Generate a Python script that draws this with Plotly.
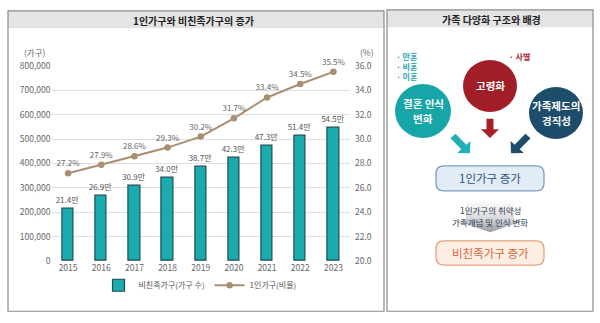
import math
import plotly.graph_objects as go

# ---- data -------------------------------------------------------------
years = [2015, 2016, 2017, 2018, 2019, 2020, 2021, 2022, 2023]
nonkin_households = [214000, 269000, 309000, 340000, 387000, 423000, 473000, 514000, 545000]
single_ratio = [27.2, 27.9, 28.6, 29.3, 30.2, 31.7, 33.4, 34.5, 35.5]
left_ticks = [0, 100000, 200000, 300000, 400000, 500000, 600000, 700000, 800000]
right_ticks = [20, 22, 24, 26, 28, 30, 32, 34, 36]

bar_name = "비친족가구(가구 수)"
line_name = "1인가구(비율)"
left_title = "1인가구와 비친족가구의 증가"
right_title = "가족 다양화 구조와 배경"

W, H = 600, 323
FONT = "Noto Sans CJK KR"


def fx(px):
    return px / W


def fy(py):
    return 1 - py / H


fig = go.Figure()

# ---- left panel: bar + line chart ------------------------------------
fig.add_trace(go.Bar(
    x=years, y=nonkin_households, name=bar_name, width=0.34,
    marker=dict(color="#19abad", line=dict(color="#1d4d52", width=1.2)),
    text=[f"{v / 10000:.1f}만" for v in nonkin_households],
    textposition="outside", cliponaxis=False, constraintext="none",
    outsidetextfont=dict(size=8, color="#555555", family=FONT),
    hoverinfo="skip",
))
fig.add_trace(go.Scatter(
    x=years, y=single_ratio, name=line_name, yaxis="y2",
    mode="lines+markers+text",
    line=dict(color="#a88f70", width=2),
    marker=dict(color="#a88f70", size=6.5),
    text=[f"{v:.1f}%" for v in single_ratio],
    textposition="top center", cliponaxis=False,
    textfont=dict(size=8, color="#666666", family=FONT),
    hoverinfo="skip",
))

# ---- right panel helpers (pixel-space axes x3/y3) ---------------------
def arrow_path(tail, tip, shaft_w, head_w, head_len):
    dx, dy = tip[0] - tail[0], tip[1] - tail[1]
    L = math.hypot(dx, dy)
    ux, uy = dx / L, dy / L
    nx, ny = -uy, ux
    bx, by = tip[0] - ux * head_len, tip[1] - uy * head_len
    pts = [
        (tail[0] + nx * shaft_w / 2, tail[1] + ny * shaft_w / 2),
        (bx + nx * shaft_w / 2, by + ny * shaft_w / 2),
        (bx + nx * head_w / 2, by + ny * head_w / 2),
        tip,
        (bx - nx * head_w / 2, by - ny * head_w / 2),
        (bx - nx * shaft_w / 2, by - ny * shaft_w / 2),
        (tail[0] - nx * shaft_w / 2, tail[1] - ny * shaft_w / 2),
    ]
    return "M" + " L".join(f"{x:.2f},{y:.2f}" for x, y in pts) + " Z"


def rrect_path(x0, y0, x1, y1, r):
    return (f"M{x0 + r},{y0} L{x1 - r},{y0} Q{x1},{y0} {x1},{y0 + r} "
            f"L{x1},{y1 - r} Q{x1},{y1} {x1 - r},{y1} L{x0 + r},{y1} "
            f"Q{x0},{y1} {x0},{y1 - r} L{x0},{y0 + r} Q{x0},{y0} {x0 + r},{y0} Z")


# gradient arrow between the two result boxes
gx = [466, 514, 514, 524, 490, 456, 466, 466]
gy = [193, 193, 222, 222, 234, 222, 222, 193]
fig.add_trace(go.Scatter(
    x=gx, y=gy, xaxis="x3", yaxis="y3", mode="lines", fill="toself",
    line=dict(width=0, color="rgba(0,0,0,0)"),
    fillgradient=dict(type="vertical", start=193, stop=234,
                      colorscale=[[0, "rgba(255,255,255,1)"], [0.45, "#d8d9db"], [1, "#6f7378"]]),
    showlegend=False, hoverinfo="skip",
))

shapes = []
annotations = []


def label(x, y, text, size, color, xanchor="center"):
    annotations.append(dict(xref="x3", yref="y3", x=x, y=y, text=text, xanchor=xanchor,
                            showarrow=False, font=dict(size=size, color=color, family=FONT)))


# panel frames and title bars
for (x0, x1, y0, y1, tb) in [(8, 384, 4, 316, 22), (387, 593, 3, 316, 21)]:
    shapes.append(dict(type="rect", xref="x3", yref="y3", x0=x0, x1=x1, y0=y0, y1=tb,
                       fillcolor="#e4e4e4", line=dict(width=0), layer="below"))
    shapes.append(dict(type="rect", xref="x3", yref="y3", x0=x0, x1=x1, y0=y0, y1=y1,
                       fillcolor="rgba(0,0,0,0)", line=dict(color="#8a8a8a", width=1.2)))

label(193, 14, f"<b>{left_title}</b>", 10, "#222222")
label(491, 13, f"<b>{right_title}</b>", 10, "#222222")

# unit labels of the chart
label(35, 47, "(가구)", 8.5, "#666666")
label(367, 47, "(%)", 8.5, "#666666")

# circles with their captions (one annotation per text line)
circles = [
    (423, 108, 28, "#17a6a7", ["결혼 인식", "변화"]),
    (490, 82, 27, "#a11d27", ["고령화"]),
    (556, 110, 27, "#1e4c6b", ["가족제도의", "경직성"]),
]
for cx, cy, r, col, lines in circles:
    shapes.append(dict(type="circle", xref="x3", yref="y3", x0=cx - r, x1=cx + r,
                       y0=cy - r, y1=cy + r, fillcolor=col, line=dict(width=0)))
    n = len(lines)
    for i, ln in enumerate(lines):
        label(cx, cy + (i - (n - 1) / 2) * 16, f"<b>{ln}</b>", 10.5, "white")

# bullet keywords
for i, word in enumerate(["만혼", "비혼", "이혼"]):
    label(394, 51 + i * 10.5, f"<b>· {word}</b>", 8, "#1ea5ad", xanchor="left")
label(507, 51, "<b>· 사별</b>", 8, "#b0252d", xanchor="left")

# arrows pointing to the result box
for tail, tip, col in [((490, 116), (490, 136), "#a5222a"),
                       ((453, 134), (470, 152), "#22b0b8"),
                       ((528, 134), (511, 152), "#1e4c6b")]:
    shapes.append(dict(type="path", xref="x3", yref="y3",
                       path=arrow_path(tail, tip, 7, 18, 9),
                       fillcolor=col, line=dict(width=0)))

# result boxes
shapes.append(dict(type="path", xref="x3", yref="y3", path=rrect_path(436, 165, 544, 191, 8),
                   fillcolor="#e1ecf7", line=dict(color="#7d9dc4", width=1.3)))
label(490, 178, "1인가구 증가", 11.5, "#2f5379")
shapes.append(dict(type="path", xref="x3", yref="y3", path=rrect_path(436, 243, 544, 268, 8),
                   fillcolor="#fdeee3", line=dict(color="#e5a07c", width=1.3)))
label(490, 255.5, "비친족가구 증가", 11.5, "#d46a3f")

label(490, 211, "1인가구의 취약성", 8.5, "#2e3f55")
label(490, 223, "가족개념 및 인식 변화", 8.5, "#2e3f55")

tick_font = dict(size=8.5, color="#666666", family=FONT)

fig.update_layout(
    width=W, height=H, margin=dict(l=0, r=0, t=0, b=0),
    paper_bgcolor="white", plot_bgcolor="rgba(0,0,0,0)",
    font=dict(family=FONT),
    bargap=0,
    xaxis=dict(domain=[fx(51.5), fx(350)], range=[2014.5, 2023.5], tickvals=years,
               showgrid=False, zeroline=False, showline=False, ticks="",
               tickfont=tick_font, fixedrange=True),
    yaxis=dict(domain=[fy(264), fy(61)], range=[0, 800000], tickvals=left_ticks,
               tickformat=",d", gridcolor="#dedede", gridwidth=1, zeroline=False,
               showline=False, ticks="", tickfont=tick_font, fixedrange=True),
    yaxis2=dict(overlaying="y", side="right", range=[20, 36], tickvals=right_ticks,
                tickformat=".1f", showgrid=False, zeroline=False, showline=False,
                ticks="", tickfont=tick_font, ticklabelstandoff=4, fixedrange=True),
    xaxis3=dict(domain=[0, 1], range=[0, W], anchor="y3", visible=False, fixedrange=True),
    yaxis3=dict(domain=[0, 1], range=[H, 0], anchor="x3", visible=False, fixedrange=True),
    legend=dict(orientation="h", x=fx(200), xanchor="center", y=fy(289), yanchor="middle",
                font=dict(size=8, color="#555555", family=FONT), itemwidth=30,
                bgcolor="rgba(0,0,0,0)", tracegroupgap=0),
    shapes=shapes, annotations=annotations,
)

fig.write_html("out.html")
